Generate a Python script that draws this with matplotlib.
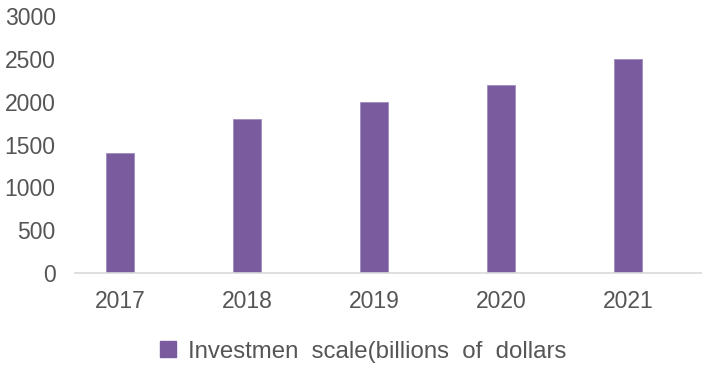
import matplotlib.pyplot as plt
from matplotlib.patches import Patch

years = ["2017", "2018", "2019", "2020", "2021"]
investment = [1400, 1800, 2000, 2200, 2500]
y_ticks = [0, 500, 1000, 1500, 2000, 2500, 3000]
series_name = "Investmen  scale(billions  of  dollars"

bar_color = "#7A5C9E"
text_color = "#555555"

plt.rcParams["font.family"] = ["Liberation Sans", "DejaVu Sans"]

fig = plt.figure(figsize=(7.02, 3.65), dpi=100)
ax = fig.add_axes([0.107, 0.252, 0.893, 0.704])

x = range(len(years))
ax.bar(x, investment, width=0.22, color=bar_color, edgecolor="#A08CC0", linewidth=0.6, zorder=2)

ax.set_xlim(-0.354, 4.58)
ax.set_ylim(0, 3000)
ax.set_yticks(y_ticks)
ax.set_xticks(list(x))
ax.set_xticklabels(years)

for side in ["top", "right", "left"]:
    ax.spines[side].set_visible(False)
ax.spines["bottom"].set_color("#D9D9D9")
ax.spines["bottom"].set_linewidth(1.2)

ax.tick_params(axis="y", length=0, pad=14, labelsize=16.5, labelcolor=text_color)
ax.tick_params(axis="x", length=0, pad=12, labelsize=16.5, labelcolor=text_color)

handle = Patch(facecolor=bar_color, edgecolor=bar_color)
fig.legend([handle], [series_name], loc="center", bbox_to_anchor=(0.517, 0.036),
           frameon=False, fontsize=17.3, labelcolor=text_color,
           handlelength=0.65, handleheight=0.65, handletextpad=0.5)

fig.savefig("out.png", dpi=100)
